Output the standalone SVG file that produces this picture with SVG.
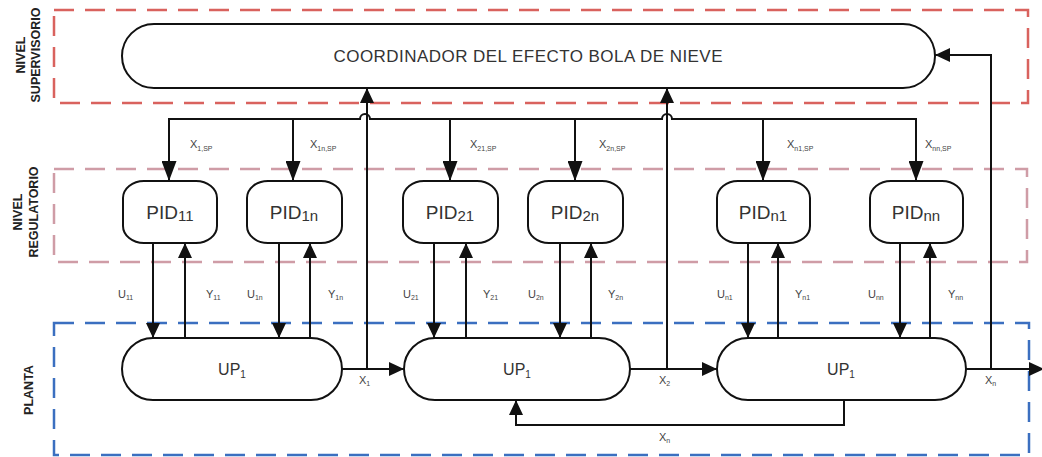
<svg xmlns="http://www.w3.org/2000/svg" width="1042" height="457" viewBox="0 0 1042 457">
<style>
.node{fill:#fff;stroke:#111;stroke-width:2}
.ln{fill:none;stroke:#111;stroke-width:2}
.zone{fill:none;stroke-width:2.5;stroke-dasharray:20 11}
.t{font-family:"Liberation Sans",Arial,sans-serif;fill:#333}
.side{font-family:"Liberation Sans",Arial,sans-serif;font-weight:bold;font-size:12.5px;fill:#222;text-anchor:middle}
.lab{font-family:"Liberation Sans",Arial,sans-serif;font-size:11px;fill:#444}
</style>
<defs>
<marker id="ah" viewBox="0 0 15 14" refX="15" refY="7" markerWidth="15" markerHeight="14" markerUnits="userSpaceOnUse" orient="auto"><path d="M0,0 L15,7 L0,14 z" fill="#111"/></marker>
<marker id="ahb" viewBox="0 0 20 15" refX="20" refY="7.5" markerWidth="20" markerHeight="15" markerUnits="userSpaceOnUse" orient="auto"><path d="M0,0 L20,7.5 L0,15 z" fill="#111"/></marker>
</defs>
<rect width="1042" height="457" fill="#fff"/>
<g id="zones">
<rect class="zone" x="54" y="10" width="974" height="93" stroke="#d9625e"/>
<rect class="zone" x="54" y="169" width="973" height="93" stroke="#cf9ca6"/>
<rect class="zone" x="54" y="323" width="975" height="132" stroke="#3b6fc0"/>
<text class="side" transform="translate(25,55) rotate(-90)">NIVEL</text>
<text class="side" transform="translate(40,55) rotate(-90)">SUPERVISORIO</text>
<text class="side" transform="translate(22,212) rotate(-90)">NIVEL</text>
<text class="side" transform="translate(38,212) rotate(-90)">REGULATORIO</text>
<text class="side" transform="translate(33,390) rotate(-90)">PLANTA</text>
</g>
<g id="connectors">
<path class="ln" d="M168,119 H360 a5,5 0 0 1 10,0 H662 a5,5 0 0 1 10,0 H917"/>
<path class="ln" marker-end="url(#ahb)" d="M169,119 V181"/>
<path class="ln" marker-end="url(#ahb)" d="M293,119 V181"/>
<path class="ln" marker-end="url(#ahb)" d="M450,119 V181"/>
<path class="ln" marker-end="url(#ahb)" d="M575,119 V181"/>
<path class="ln" marker-end="url(#ahb)" d="M763,119 V181"/>
<path class="ln" marker-end="url(#ahb)" d="M916,119 V181"/>
<path class="ln" marker-end="url(#ah)" d="M153,243 V338"/>
<path class="ln" marker-end="url(#ah)" d="M185,338 V243"/>
<path class="ln" marker-end="url(#ah)" d="M279,243 V338"/>
<path class="ln" marker-end="url(#ah)" d="M310,338 V243"/>
<path class="ln" marker-end="url(#ah)" d="M434,243 V338"/>
<path class="ln" marker-end="url(#ah)" d="M466,338 V243"/>
<path class="ln" marker-end="url(#ah)" d="M560,243 V338"/>
<path class="ln" marker-end="url(#ah)" d="M591,338 V243"/>
<path class="ln" marker-end="url(#ah)" d="M748,243 V338"/>
<path class="ln" marker-end="url(#ah)" d="M778,338 V243"/>
<path class="ln" marker-end="url(#ah)" d="M900,243 V338"/>
<path class="ln" marker-end="url(#ah)" d="M930,338 V243"/>
<path class="ln" marker-end="url(#ah)" d="M342,369 H404"/>
<path class="ln" marker-end="url(#ah)" d="M630,369 H717"/>
<path class="ln" marker-end="url(#ah)" d="M966,369 H1044"/>
<path class="ln" marker-end="url(#ah)" d="M367,369 V88"/>
<path class="ln" marker-end="url(#ah)" d="M667,369 V88"/>
<path class="ln" marker-end="url(#ah)" d="M991,369 V55 H935"/>
<path class="ln" marker-end="url(#ah)" d="M844,400 V425 H516 V400"/>
</g>
<g id="labels">
<text class="lab" x="190" y="148">X<tspan font-size="7" dy="3">1,SP</tspan></text>
<text class="lab" x="310" y="148">X<tspan font-size="7" dy="3">1n,SP</tspan></text>
<text class="lab" x="470" y="148">X<tspan font-size="7" dy="3">21,SP</tspan></text>
<text class="lab" x="599" y="148">X<tspan font-size="7" dy="3">2n,SP</tspan></text>
<text class="lab" x="787" y="148">X<tspan font-size="7" dy="3">n1,SP</tspan></text>
<text class="lab" x="925" y="148">X<tspan font-size="7" dy="3">nn,SP</tspan></text>
<text class="lab" x="118" y="298">U<tspan font-size="7" dy="2">11</tspan></text>
<text class="lab" x="206" y="298">Y<tspan font-size="7" dy="2">11</tspan></text>
<text class="lab" x="247" y="298">U<tspan font-size="7" dy="2">1n</tspan></text>
<text class="lab" x="328" y="298">Y<tspan font-size="7" dy="2">1n</tspan></text>
<text class="lab" x="403" y="298">U<tspan font-size="7" dy="2">21</tspan></text>
<text class="lab" x="483" y="298">Y<tspan font-size="7" dy="2">21</tspan></text>
<text class="lab" x="528" y="298">U<tspan font-size="7" dy="2">2n</tspan></text>
<text class="lab" x="608" y="298">Y<tspan font-size="7" dy="2">2n</tspan></text>
<text class="lab" x="717" y="298">U<tspan font-size="7" dy="2">n1</tspan></text>
<text class="lab" x="795" y="298">Y<tspan font-size="7" dy="2">n1</tspan></text>
<text class="lab" x="868" y="298">U<tspan font-size="7" dy="2">nn</tspan></text>
<text class="lab" x="948" y="298">Y<tspan font-size="7" dy="2">nn</tspan></text>
<text class="lab" x="359" y="384">X<tspan font-size="7" dy="2">1</tspan></text>
<text class="lab" x="659" y="384">X<tspan font-size="7" dy="2">2</tspan></text>
<text class="lab" x="985" y="384">X<tspan font-size="7" dy="2">n</tspan></text>
<text class="lab" x="659" y="441">X<tspan font-size="7" dy="2">n</tspan></text>
</g>
<g id="coordinador">
<rect class="node" x="122" y="24" width="813" height="64" rx="32" ry="32"/>
<text class="t" x="528" y="62" font-size="17" text-anchor="middle" textLength="389" lengthAdjust="spacing">COORDINADOR DEL EFECTO BOLA DE NIEVE</text>
</g>
<g id="pid11"><rect class="node" x="123" y="181" width="94" height="62" rx="21" ry="17"/><text class="t" x="170" y="219" font-size="19" text-anchor="middle">PID<tspan font-size="15" dy="2">11</tspan></text></g>
<g id="pid1n"><rect class="node" x="247" y="181" width="95" height="62" rx="21" ry="17"/><text class="t" x="294" y="219" font-size="19" text-anchor="middle">PID<tspan font-size="15" dy="2">1n</tspan></text></g>
<g id="pid21"><rect class="node" x="403" y="181" width="95" height="62" rx="21" ry="17"/><text class="t" x="450" y="219" font-size="19" text-anchor="middle">PID<tspan font-size="15" dy="2">21</tspan></text></g>
<g id="pid2n"><rect class="node" x="528" y="181" width="95" height="62" rx="21" ry="17"/><text class="t" x="575" y="219" font-size="19" text-anchor="middle">PID<tspan font-size="15" dy="2">2n</tspan></text></g>
<g id="pidn1"><rect class="node" x="717" y="181" width="93" height="62" rx="21" ry="17"/><text class="t" x="763" y="219" font-size="19" text-anchor="middle">PID<tspan font-size="15" dy="2">n1</tspan></text></g>
<g id="pidnn"><rect class="node" x="870" y="181" width="93" height="62" rx="21" ry="17"/><text class="t" x="916" y="219" font-size="19" text-anchor="middle">PID<tspan font-size="15" dy="2">nn</tspan></text></g>
<g id="up1"><rect class="node" x="122" y="338" width="220" height="62" rx="31" ry="31"/><text class="t" x="232" y="375" font-size="16" text-anchor="middle">UP<tspan font-size="10" dy="3">1</tspan></text></g>
<g id="up2"><rect class="node" x="404" y="338" width="226" height="62" rx="31" ry="31"/><text class="t" x="517" y="375" font-size="16" text-anchor="middle">UP<tspan font-size="10" dy="3">1</tspan></text></g>
<g id="up3"><rect class="node" x="717" y="338" width="249" height="62" rx="31" ry="31"/><text class="t" x="841" y="375" font-size="16" text-anchor="middle">UP<tspan font-size="10" dy="3">1</tspan></text></g>
</svg>
